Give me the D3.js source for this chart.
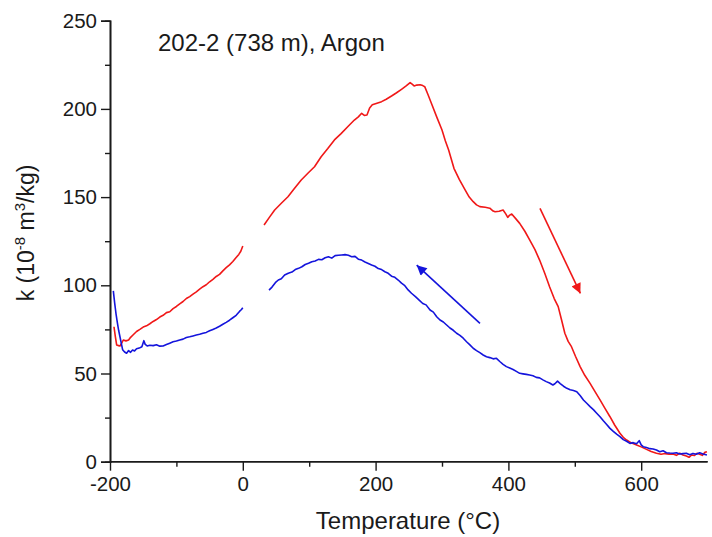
<!DOCTYPE html>
<html>
<head>
<meta charset="utf-8">
<script src="https://cdn.jsdelivr.net/npm/d3@7"></script>
<style>
  body { margin: 0; background: #fff; }
  text { font-family: "Liberation Sans", Arial, sans-serif; fill: #1a1a1a; }
</style>
</head>
<body>
<svg class="chart" width="712" height="537"></svg>
<script>
// heating run (red), measured below 0 and above 30 °C
const heatLowT = [-194,-192,-190,-187,-185,-182,-180,-176,-172,-169,-165,-160,-155,-150,-145,-140,-135,-130,-125,-120,-115,-110,-105,-100,-95,-90,-85,-80,-75,-70,-65,-60,-55,-50,-45,-40,-35,-30,-25,-20,-15,-10,-6,-3,0];
const heatLowK = [76.5,71,66.2,65.8,65.6,67.5,69,68.5,69,70.5,72,73.8,75,76.3,77,78.2,79.5,80.6,82,83,84.5,85,86.8,88,89.5,90.8,92.5,93.6,95,96.3,97.8,99.2,100.3,102,103.4,105,106.2,108.2,110,111.6,113.5,115.8,117.5,119.3,122.3];

const heatHighT = [32,40,48,58,68,78,88,98,108,118,128,138,148,158,168,174,179,183,187,191,195,202,209,216,224,231,239,246,252,255,258,262,267,271,274,279,284,292,300,305,310,318,326,335,341,347,352,357,365,372,377,380,386,392,396,399,402,405,411,417,425,432,440,447,455,462,469,475,480,485,490,495,501,508,515,523,530,538,545,553,560,568,573,578,585,593,600,608,615,623,630,636,642,648,653,658,663,668,672,676,680,684,688,692,696,699];
const heatHighK = [134.2,138.5,142.7,146.5,150.2,155,159.7,163.5,167.2,172.9,177.5,182.4,186,189.9,193.7,195.5,197.5,196.3,196.5,200.5,202.3,203.2,204.1,205.5,207.3,209,211.1,213,214.9,214,213,213.5,213.7,213.2,212.6,208,203.2,195.5,188,182,176.7,166.3,160,153.9,150,147.4,145.6,144.6,144.2,143.7,142.1,141.7,142,142.7,140.5,138.5,139.8,140.4,137.8,135.1,130.5,125.7,120.2,114.3,106.5,99.2,92.5,87.9,80.5,72.8,68.2,65.2,59.8,53.9,49,44.4,40,35,30.5,25.5,20.8,16.1,13.8,12.3,10.7,9.5,8.4,7,5.8,4.8,4.2,4.6,4.3,4.4,3.6,4.8,3.8,3.2,2.5,3.8,3.5,4.8,4.2,3.6,5.3,5.7];

// cooling run (blue)
const coolLowT = [-195,-193,-191,-189,-187,-184,-181,-178,-175,-172,-169,-166,-163,-160,-156,-152,-149,-147,-144,-140,-135,-130,-125,-120,-115,-110,-105,-100,-95,-90,-85,-80,-75,-70,-65,-60,-55,-50,-45,-40,-35,-30,-25,-20,-15,-10,-5,-2,0];
const coolLowK = [96.8,90,84,79,74.5,69,63.5,62.2,61.5,63,62,63.3,62.8,64,64.4,65.2,68.6,66.5,65.6,66,65.8,66.3,65.5,65.6,66.4,67.2,68,68.4,69,69.5,70.4,70.8,71.3,71.8,72.2,72.8,73.3,74.2,75,75.8,76.8,77.9,79,80.2,81.6,83,85.2,86.3,87.3];

const coolHighT = [39.5,44,49,53.5,58,63,68.5,74,79,84,89,94,99,104,109,114,119,124,129,134,139,144,149,154,159,164,169,174,179,184,189,194,199,204,209,214,219,224,229,234,239,244,249,254,260,266,271,276,282,287,292,297,302,307,312,317,322,327,332,337,342,347,352,357,362,367,372,377,382,387,392,397,402,407,412,417,422,427,432,437,442,447,452,457,462,467,470,474,478,483,488,493,498,503,508,513,518,523,528,533,538,543,548,553,558,563,568,573,578,583,588,593,597,600,603,608,613,618,623,628,633,638,643,648,653,658,663,668,673,678,683,688,693,699];
const coolHighK = [97.3,99,101.5,103,103.7,105.8,106.8,107.5,108.9,109.6,110.5,111.8,112.5,113.4,113.8,114.7,114.5,115.6,116.2,115.4,116.8,117,117.2,117.4,117,116.2,116.4,114.8,114.3,113.2,112.4,111.5,110.8,109.5,108.9,107.7,106.8,105.2,104.5,103,101.2,99.8,97.4,95.5,93.6,91.5,89.7,88.9,86,84.8,82.2,80.3,79.2,77.5,75.8,74.5,72.8,71.6,70,68,66.2,64.3,63,61.8,60.5,59.5,59,58.3,58.6,56.8,55.2,53.9,53.1,52.3,51.2,50.1,49.8,49.5,49.1,48.7,47.8,47.5,46.4,45.4,44.6,43.5,44.2,45.7,44.3,42.8,41.6,40.8,40.4,39.7,37.5,35,33.1,31.2,29.5,27.5,25.5,23.2,21.1,18.9,17.2,15.6,14.2,12.5,11.6,10.4,10.8,10.2,11.9,9.5,8.5,8,7.4,7.2,6.6,5.6,6.2,5.1,4.9,4.8,5.1,4.4,4.6,4.8,3.9,4.7,4.2,5.1,4.4,3.8];

// direction arrows: [T start, k start, T end, k end]
const heatArrow = [447.6, 143.6, 508.4, 95.4];
const coolArrow = [357.2, 78.4, 261.9, 111.4];

const xTicks = [-200, 0, 200, 400, 600];
const xMinor = [-100, 100, 300, 500];
const yTicks = [0, 50, 100, 150, 200, 250];
const yMinor = [25, 75, 125, 175, 225];

const red = '#f01818';
const blue = '#1414dc';

const svg = d3.select('.chart');
const x = d3.scaleLinear().domain([-200, 700]).range([110, 707.6]);
const y = d3.scaleLinear().domain([0, 250]).range([461.7, 20.7]);

const line = d3.line()
  .x(d => x(d[0]))
  .y(d => y(d[1]));

const zip = (a, b) => a.map((v, i) => [v, b[i]]);

const defs = svg.append('defs');
[['headRed', red], ['headBlue', blue]].forEach(([id, c]) => {
  defs.append('marker')
    .attr('id', id)
    .attr('viewBox', '0 0 10 10')
    .attr('refX', 10)
    .attr('refY', 5)
    .attr('markerUnits', 'userSpaceOnUse')
    .attr('markerWidth', 15)
    .attr('markerHeight', 10)
    .attr('orient', 'auto')
    .append('path')
    .attr('d', 'M0,0L10,5L0,10z')
    .attr('fill', c);
});

// axes (plain hyphen for negatives, as in the original)
const fmt = d => String(d);
const xAxis = svg.append('g').attr('transform', 'translate(0,' + y(0) + ')');
xAxis.call(d3.axisBottom(x).tickValues(xTicks).tickSize(9).tickPadding(6).tickFormat(fmt));
xAxis.append('g').call(d3.axisBottom(x).tickValues(xMinor).tickSize(5).tickFormat(''));
const yAxis = svg.append('g').attr('transform', 'translate(' + x(-200) + ',0)');
yAxis.call(d3.axisLeft(y).tickValues(yTicks).tickSize(9).tickPadding(4).tickFormat(fmt));
yAxis.append('g').call(d3.axisLeft(y).tickValues(yMinor).tickSize(5).tickFormat(''));

svg.selectAll('.domain').attr('stroke', '#1a1a1a').attr('stroke-width', 1.6);
svg.selectAll('.tick line').attr('stroke', '#1a1a1a').attr('stroke-width', 1.4);
svg.selectAll('.tick text')
  .attr('font-size', 20.5)
  .attr('font-family', '"Liberation Sans", Arial, sans-serif')
  .attr('fill', '#1a1a1a');
xAxis.selectAll('.domain').attr('d', 'M' + x(-200) + ',0H' + x(700));

// curves
const curves = [
  [zip(heatLowT, heatLowK), red],
  [zip(heatHighT, heatHighK), red],
  [zip(coolLowT, coolLowK), blue],
  [zip(coolHighT, coolHighK), blue]
];
svg.append('g').selectAll('path')
  .data(curves)
  .enter()
  .append('path')
  .attr('d', d => line(d[0]))
  .attr('fill', 'none')
  .attr('stroke', d => d[1])
  .attr('stroke-width', 1.6)
  .attr('stroke-linejoin', 'round');

// arrows
[[heatArrow, red, 'headRed'], [coolArrow, blue, 'headBlue']].forEach(([a, c, m]) => {
  svg.append('line')
    .attr('x1', x(a[0])).attr('y1', y(a[1]))
    .attr('x2', x(a[2])).attr('y2', y(a[3]))
    .attr('stroke', c)
    .attr('stroke-width', 1.6)
    .attr('marker-end', 'url(#' + m + ')');
});

// labels
svg.append('text')
  .attr('x', 158).attr('y', 51)
  .attr('font-size', 24)
  .text('202-2 (738 m), Argon');

svg.append('text')
  .attr('x', 408).attr('y', 529)
  .attr('text-anchor', 'middle')
  .attr('font-size', 24)
  .text('Temperature (°C)');

const yl = svg.append('text')
  .attr('transform', 'translate(33.5,233) rotate(-90)')
  .attr('text-anchor', 'middle')
  .attr('font-size', 23);
yl.append('tspan').text('k (10');
yl.append('tspan').attr('dy', -9).attr('font-size', 15).text('-8');
yl.append('tspan').attr('dy', 9).text(' m');
yl.append('tspan').attr('dy', -9).attr('font-size', 15).text('3');
yl.append('tspan').attr('dy', 9).text('/kg)');
</script>
</body>
</html>
